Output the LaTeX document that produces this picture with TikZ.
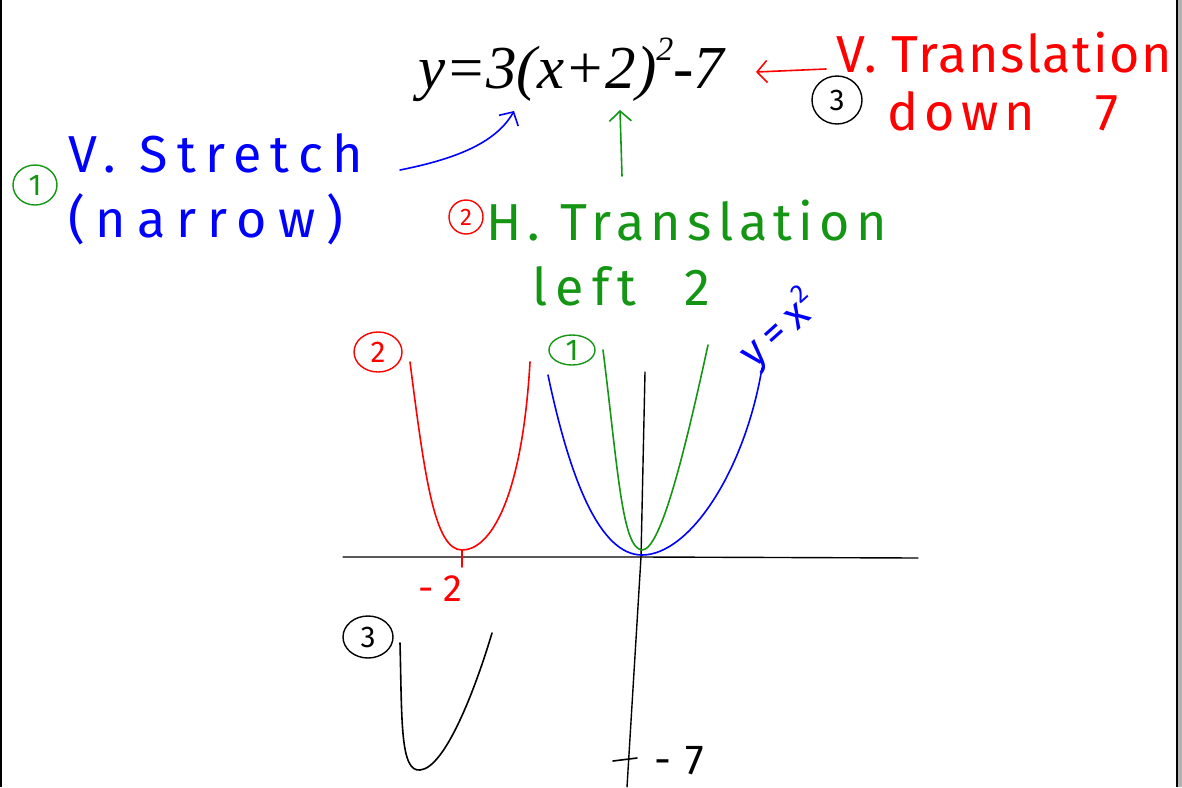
\documentclass[tikz,border=0pt]{standalone}
\usepackage{fontspec}
\usepackage{xcolor}
\usetikzlibrary{arrows.meta, positioning, shapes.geometric}
\newfontfamily\formulafont{Liberation Serif}
\newfontfamily\hand{Fira Sans}
\definecolor{penblue}{RGB}{0,0,255}
\definecolor{pengreen}{RGB}{20,150,20}
\definecolor{penred}{RGB}{255,0,0}

\begin{document}
\begin{tikzpicture}[
  x=1pt, y=-1pt,
  note/.style={font=\hand\fontsize{52}{52}\selectfont\addfontfeature{LetterSpace=#1}, inner sep=0pt, anchor=base west},
  note/.default=12,
  small/.style={font=\hand\fontsize{#1}{#1}\selectfont, inner sep=0pt, anchor=base west},
  num/.style={draw, ellipse, line width=1.4pt, inner sep=0pt, minimum width=44pt, minimum height=40pt, font=\hand\fontsize{30}{30}\selectfont},
  pen/.style={line width=1.6pt, line cap=round, line join=round},
  arr/.style={pen, -{Straight Barb[length=10pt, width=22pt, line width=1.6pt]}}
]
  \useasboundingbox (0,0) rectangle (1182,787);

  % Page frame
  \fill[gray!60] (1178,0) rectangle (1182,787);
  \draw[line width=1.2pt] (1177,0) -- (1177,787);
  \draw[line width=2pt] (1,0) -- (1,787);

  % Equation
  \node[inner sep=0pt, anchor=base west, font=\formulafont\itshape\fontsize{61}{61}\selectfont] (eq) at (418,88)
    {y=3(x+2)\raisebox{28pt}{\fontsize{34}{34}\selectfont 2}-7};

  % Step 1: vertical stretch
  \node[num, pengreen] (n1) at (35,185) {1};
  \node[note=18, penblue] (stretch) at (68,172) {V. Stretch};
  \node[note=21, penblue] (narrow) at (68,237) {(narrow)};

  % Step 2: horizontal translation
  \node[num, penred, minimum width=34pt, minimum height=34pt, font=\hand\fontsize{24}{24}\selectfont] (n2) at (466,217) {2};
  \node[note, pengreen] (htrans) at (486,240) {H. Translation};
  \node[note=16, pengreen] (left) at (532,305) {left\hspace{48pt}2};

  % Step 3: vertical translation
  \node[num, minimum width=50pt, minimum height=48pt] (n3) at (837,100) {3};
  \node[note=3, penred] (vtrans) at (836,72) {V. Translation};
  \node[note, penred] (down) at (887,130) {down\hspace{60pt}7};

  % Arrows to the equation
  \coordinate (stretch_tail) at (400,170);
  \coordinate (stretch_tip) at (514,111);
  \coordinate (htrans_tail) at (622,176);
  \coordinate (htrans_tip) at (620,110);
  \coordinate (vtrans_tail) at (826,69);
  \coordinate (vtrans_tip) at (756,72);
  \draw[arr, penblue] (stretch_tail) .. controls (450,160) and (495,145) .. (stretch_tip);
  \draw[arr, pengreen] (htrans_tail) -- (htrans_tip);
  \draw[arr, penred] (vtrans_tail) -- (vtrans_tip);

  % Axes
  \draw[pen, line width=1.4pt] (343,557) -- (642,557) -- (918,558);
  \draw[pen, line width=1.4pt] (645,372) -- (641,557) -- (627,787);

  % Parabolas
  \draw[pen, penblue] (548,375) .. controls (570,480) and (600,555) .. (642,555)
    .. controls (690,555) and (745,470) .. (762,368);
  \draw[pen, pengreen] (603,350) .. controls (618,470) and (622,548) .. (642,550)
    .. controls (660,550) and (683,460) .. (708,345);
  \draw[pen, penred] (410,362) .. controls (425,480) and (435,550) .. (462,550)
    .. controls (490,550) and (522,500) .. (530,362);
  \draw[pen] (400,643) .. controls (402,720) and (400,772) .. (420,770)
    .. controls (445,768) and (475,690) .. (492,633);

  % Graph labels
  \node[num, pengreen, minimum width=46pt, minimum height=30pt] (g1) at (572,350) {1};
  \node[num, penred, minimum width=48pt, minimum height=40pt] (g2) at (378,352) {2};
  \node[num, minimum width=50pt, minimum height=42pt] (g3) at (368,637) {3};
  \node[inner sep=0pt, anchor=base west, penblue, rotate=42,
    font=\hand\fontsize{42}{42}\selectfont\addfontfeature{LetterSpace=20}] (yx) at (754,370)
    {y=x\raisebox{17pt}{\fontsize{26}{26}\selectfont 2}};
  \draw[pen, penred] (462,550) -- (462,567);
  \node[small=38, penred] (m2) at (418,601) {-\hspace{10pt}2};
  \draw[pen] (613,761) -- (637,758);
  \node[small=42] (m7) at (654,774) {-\hspace{14pt}7};
\end{tikzpicture}
\end{document}
